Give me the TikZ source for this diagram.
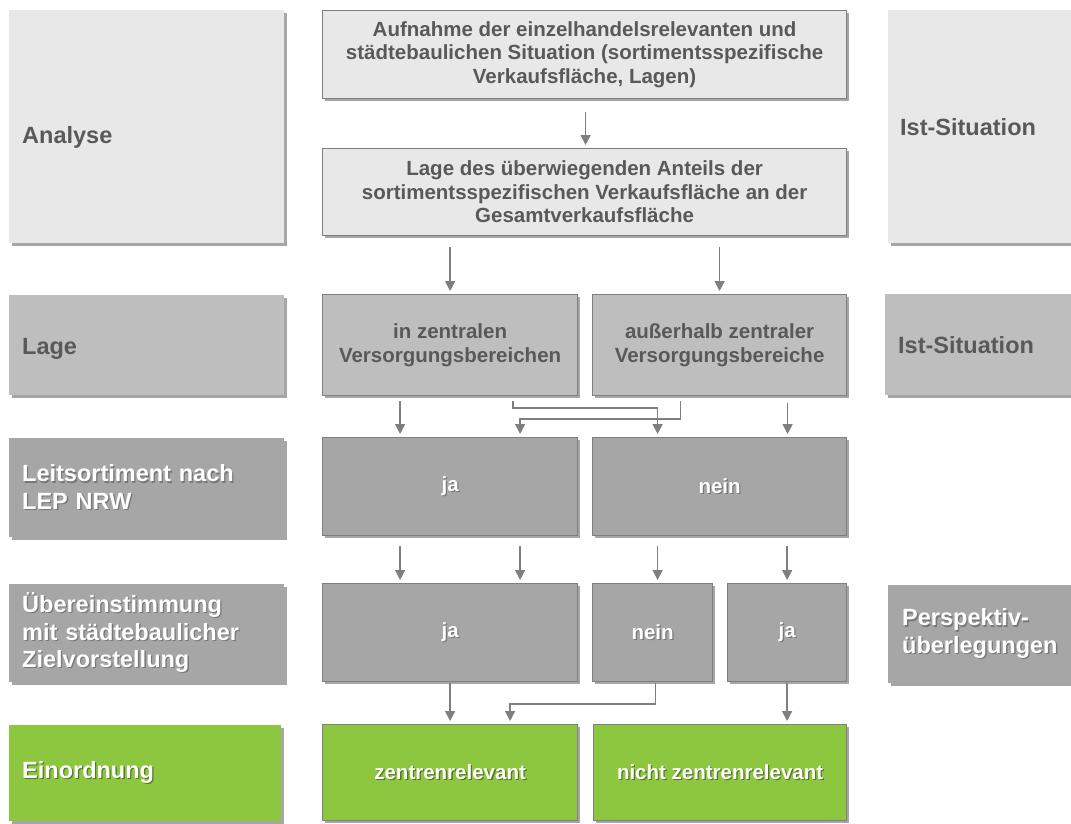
\documentclass[tikz,border=0pt]{standalone}
\usepackage{fontspec}
\setmainfont{Liberation Sans}
\usepackage{xcolor}
\usetikzlibrary{arrows.meta, shadows, positioning}

\definecolor{hell}{HTML}{E8E8E8}
\definecolor{mittel}{HTML}{BEBEBE}
\definecolor{dunkel}{HTML}{A6A6A6}
\definecolor{gruen}{HTML}{8DC63F}
\definecolor{rand}{HTML}{7F7F7F}
\definecolor{schrift}{HTML}{595959}
\colorlet{tschatten}{black}

% weisse Schrift mit leichtem Schatten
\newcommand{\sht}[1]{\leavevmode\rlap{\kern1.3pt\raisebox{-1.3pt}{\textcolor{tschatten}{#1}}}#1}

\begin{document}
\begin{tikzpicture}[x = 1pt, y = -1pt,
	schatten/.style = {drop shadow = {shadow xshift = 2.5pt, shadow yshift = -2.5pt, opacity = 0.35, fill = black}},
	mitte/.style = {rectangle, draw = rand, line width = 1.2pt, anchor = north west, inner sep = 2pt, align = center, font = \bfseries\fontsize{20.5}{23.5}\selectfont, schatten},
	stufe/.style = {rectangle, anchor = north west, inner xsep = 13pt, inner ysep = 0pt, align = left, font = \bfseries\fontsize{23.5}{27.5}\selectfont, schatten},
	hellbox/.style = {fill = hell, text = schrift},
	mittelbox/.style = {fill = mittel, text = schrift},
	dunkelbox/.style = {fill = dunkel, text = white, execute at begin node = {\colorlet{tschatten}{dunkel!72!black}}},
	gruenbox/.style = {fill = gruen, text = white, execute at begin node = {\colorlet{tschatten}{gruen!60!black}}},
	pfeil/.style = {draw = rand, line width = 1.5pt, -{Triangle[length = 10pt, width = 10pt]}, shorten > = 3pt}
]
	\def\xl{9};
	\def\xm{322};
	\def\xn{592};
	\def\xr{888};

	\useasboundingbox (0,0) rectangle (1071,823);
	\clip (0,0) rectangle (1071,823);

	% linke Spalte
	\node [stufe, hellbox, text width = 249pt, text height = 38pt, minimum height = 233pt] (analyse) at (\xl,10) {Analyse};
	\node [stufe, mittelbox, text width = 249pt, text height = 24pt, minimum height = 100pt] (lage) at (\xl,295) {Lage};
	\node [stufe, dunkelbox, text width = 249pt, minimum height = 99pt] (leit) at (\xl,438) {\sht{Leitsortiment nach}\\\sht{LEP NRW}};
	\node [stufe, dunkelbox, text width = 249pt, minimum height = 98pt] (ueber) at (\xl,584) {\sht{Übereinstimmung}\\\sht{mit städtebaulicher}\\\sht{Zielvorstellung}};
	\node [stufe, gruenbox, text width = 246pt, minimum height = 96pt] (einord) at (\xl,725) {\sht{Einordnung}};

	% mittlere Spalte
	\node [mitte, hellbox, minimum width = 524pt, minimum height = 88pt] (aufnahme) at (\xm,10) {Aufnahme der einzelhandelsrelevanten und\\städtebaulichen Situation (sortimentsspezifische\\Verkaufsfläche, Lagen)};
	\node [mitte, hellbox, minimum width = 524pt, minimum height = 87pt] (anteil) at (\xm,148) {Lage des überwiegenden Anteils der\\sortimentsspezifischen Verkaufsfläche an der\\Gesamtverkaufsfläche};

	\node [mitte, mittelbox, minimum width = 255pt, minimum height = 101pt] (inzvb) at (\xm,294) {in zentralen\\Versorgungsbereichen};
	\node [mitte, mittelbox, minimum width = 254pt, minimum height = 101pt] (auzvb) at (\xn,294) {außerhalb zentraler\\Versorgungsbereiche};

	\node [mitte, dunkelbox, minimum width = 255pt, minimum height = 98pt] (leitja) at (\xm,437) {\sht{ja}};
	\node [mitte, dunkelbox, minimum width = 254pt, minimum height = 98pt] (leitnein) at (\xn,437) {\sht{nein}};

	\node [mitte, dunkelbox, minimum width = 255pt, minimum height = 98pt] (ueberja) at (\xm,583) {\sht{ja}};
	\node [mitte, dunkelbox, minimum width = 120pt, minimum height = 98pt] (uebernein) at (\xn,583) {\sht{nein}};
	\node [mitte, dunkelbox, minimum width = 119pt, minimum height = 98pt] (ueberja2) at (727,583) {\sht{ja}};

	\node [mitte, gruenbox, minimum width = 255pt, minimum height = 96pt] (zentr) at (\xm,724) {\sht{zentrenrelevant}};
	\node [mitte, gruenbox, minimum width = 253pt, minimum height = 96pt] (nzentr) at (593,724) {\sht{nicht zentrenrelevant}};

	% rechte Spalte
	\node [stufe, hellbox, inner xsep = 12pt, text width = 180pt, minimum height = 233pt] (ist) at (\xr,10) {Ist-Situation};
	\node [stufe, mittelbox, inner xsep = 13pt, text width = 180pt, minimum height = 101pt] (istlage) at (885,294) {Ist-Situation};
	\node [stufe, dunkelbox, inner xsep = 14pt, text width = 180pt, minimum height = 98pt] (persp) at (\xr,585) {\sht{Perspektiv-}\\\sht{überlegungen}};

	% Pfeile
	\draw [pfeil, shorten < = 13pt] ([xshift = 1pt]aufnahme.south) -- ([xshift = 1pt]anteil.north);
	\draw [pfeil, shorten < = 11pt] (inzvb.north |- anteil.south) -- (inzvb.north);
	\draw [pfeil, shorten < = 11pt] (auzvb.north |- anteil.south) -- (auzvb.north);

	\draw [pfeil, shorten < = 5pt] ([xshift = -50pt]inzvb.south) -- ([xshift = -50pt]leitja.north);
	\draw [pfeil, shorten < = 5pt] ([xshift = 63pt]inzvb.south) -- ++(0,12) -| ([xshift = -62pt]leitnein.north);
	\draw [pfeil, shorten < = 5pt] ([xshift = -39pt]auzvb.south) -- ++(0,23) -| ([xshift = 70pt]leitja.north);
	\draw [pfeil, shorten < = 7pt] ([xshift = 68pt]auzvb.south) -- ([xshift = 68pt]leitnein.north);

	\draw [pfeil, shorten < = 10pt] ([xshift = -50pt]leitja.south) -- ([xshift = -50pt]ueberja.north);
	\draw [pfeil, shorten < = 10pt] ([xshift = 70pt]leitja.south) -- ([xshift = 70pt]ueberja.north);
	\draw [pfeil, shorten < = 10pt] ([xshift = -62pt]leitnein.south) -- ([xshift = -62pt]leitnein.south |- uebernein.north);
	\draw [pfeil, shorten < = 10pt] (ueberja2.north |- leitnein.south) -- (ueberja2.north);

	\draw [pfeil, shorten < = 1pt] (zentr.north |- ueberja.south) -- (zentr.north);
	\draw [pfeil, shorten < = 1pt] ([xshift = 3pt]uebernein.south) -- ++(0,22) -| ([xshift = 60pt]zentr.north);
	\draw [pfeil, shorten < = 1pt] (ueberja2.south) -- (ueberja2.south |- nzentr.north);
\end{tikzpicture}
\end{document}
